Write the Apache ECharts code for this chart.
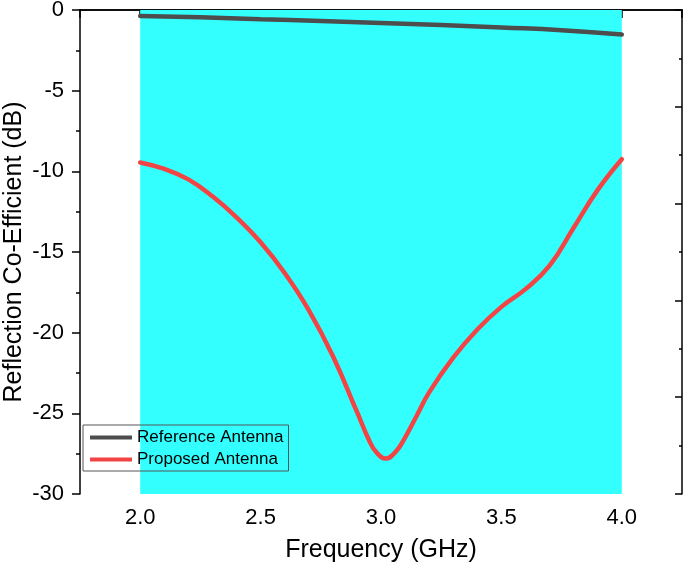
<!DOCTYPE html>
<html>
<head>
<meta charset="utf-8">
<script src="https://cdn.jsdelivr.net/npm/echarts@6/dist/echarts.min.js"></script>
<style>
  html, body { margin: 0; padding: 0; background: #fff; }
  #chart { width: 685px; height: 568px; }
</style>
</head>
<body>
<div id="chart"></div>
<script>
// frequency (GHz) / reflection co-efficient (dB)
const refFreq = [2.0, 2.25, 2.5, 2.75, 3.0, 3.25, 3.5, 3.75, 4.0];
const refDb = [-0.37, -0.45, -0.57, -0.68, -0.80, -0.93, -1.08, -1.25, -1.52];

const propFreq = [2.0, 2.1, 2.2, 2.3, 2.4, 2.5, 2.6, 2.7, 2.8, 2.9, 2.95, 2.98, 3.02, 3.06,
                  3.1, 3.15, 3.2, 3.3, 3.4, 3.5, 3.6, 3.7, 3.8, 3.9, 4.0];
const propDb = [-9.45, -9.85, -10.5, -11.55, -12.85, -14.4, -16.3, -18.6, -21.45, -24.9, -26.65, -27.4, -27.8, -27.4,
                -26.5, -25.1, -23.7, -21.55, -19.8, -18.4, -17.3, -15.85, -13.5, -11.15, -9.25];

// shaded band (GHz)
const bandRange = [2.0, 4.0];

const xMajor = [2.0, 2.5, 3.0, 3.5, 4.0];
const xMinor = [1.75, 2.25, 2.75, 3.25, 3.75, 4.25];

const FONT = 'Liberation Sans, Arial, sans-serif';
const BLACK = '#000';

const zip = (xs, ys) => xs.map((x, i) => [x, ys[i]]);

const chart = echarts.init(document.getElementById('chart'), null, { renderer: 'canvas' });

const xBase = { type: 'value', min: 1.75, max: 4.25, splitLine: { show: false } };

const option = {
    animation: false,
    backgroundColor: '#fff',
    grid: { left: 80, top: 10, right: 3, bottom: 74, outerBoundsMode: 'none', containLabel: false },
    legend: {
        data: ['Reference Antenna', 'Proposed Antenna'],
        orient: 'vertical',
        left: 83,
        top: 425,
        padding: [4, 5, 3, 7],
        itemGap: 5,
        itemWidth: 42,
        itemHeight: 4,
        icon: 'rect',
        borderColor: '#555',
        borderWidth: 1,
        textStyle: { fontFamily: FONT, fontSize: 17, color: BLACK },
    },
    xAxis: [
        {
            ...xBase,
            position: 'bottom',
            name: 'Frequency (GHz)',
            nameLocation: 'middle',
            nameGap: 44,
            nameMoveOverlap: false,
            nameTextStyle: { fontFamily: FONT, fontSize: 25, color: BLACK },
            axisLine: { lineStyle: { color: BLACK, width: 1.5 } },
            axisTick: { customValues: xMajor, length: 8, lineStyle: { color: BLACK, width: 1.5 } },
            axisLabel: {
                customValues: xMajor,
                margin: 13,
                fontFamily: FONT, fontSize: 22, color: BLACK,
                formatter: v => v.toFixed(1),
            },
        },
        {
            ...xBase,
            position: 'bottom',
            axisLine: { show: false },
            axisTick: { customValues: xMinor, length: 4, lineStyle: { color: BLACK, width: 1.5 } },
            axisLabel: { show: false },
        },
        {
            ...xBase,
            position: 'top',
            axisLine: { lineStyle: { color: BLACK, width: 1.5 } },
            axisTick: { inside: true, customValues: xMinor, length: 8, lineStyle: { color: BLACK, width: 1.5 } },
            axisLabel: { show: false },
        },
        {
            ...xBase,
            position: 'top',
            axisLine: { show: false },
            axisTick: { inside: true, customValues: xMajor, length: 4, lineStyle: { color: BLACK, width: 1.5 } },
            axisLabel: { show: false },
        },
    ],
    yAxis: [
        {
            type: 'value',
            position: 'left',
            min: -30,
            max: 0,
            interval: 5,
            name: 'Reflection Co-Efficient (dB)',
            nameLocation: 'middle',
            nameGap: 53,
            nameMoveOverlap: false,
            nameTextStyle: { fontFamily: FONT, fontSize: 25, color: BLACK },
            splitLine: { show: false },
            axisLine: { show: true, lineStyle: { color: BLACK, width: 1.5 } },
            axisTick: { show: true, length: 8, lineStyle: { color: BLACK, width: 1.5 } },
            minorTick: { show: true, splitNumber: 2, length: 4, lineStyle: { color: BLACK, width: 1.5 } },
            axisLabel: { margin: 16, fontFamily: FONT, fontSize: 22, color: BLACK },
        },
        {
            type: 'value',
            position: 'right',
            min: -30,
            max: 0,
            interval: 6,
            splitLine: { show: false },
            axisLine: { show: true, lineStyle: { color: BLACK, width: 1.5 } },
            axisTick: { show: true, inside: true, length: 7, lineStyle: { color: BLACK, width: 1.5 } },
            minorTick: { show: true, splitNumber: 2, length: 3, lineStyle: { color: BLACK, width: 1.5 } },
            axisLabel: { show: false },
        },
    ],
    series: [
        {
            name: 'band',
            type: 'line',
            z: 1,
            data: [[bandRange[0], 0], [bandRange[1], 0]],
            showSymbol: false,
            lineStyle: { width: 0 },
            areaStyle: { color: '#33ffff', opacity: 1, origin: 'start' },
            silent: true,
        },
        {
            name: 'Reference Antenna',
            type: 'line',
            z: 3,
            data: zip(refFreq, refDb),
            smooth: true,
            showSymbol: false,
            itemStyle: { color: '#4d4d4d' },
            lineStyle: { color: '#4d4d4d', width: 4.5, cap: 'round' },
        },
        {
            name: 'Proposed Antenna',
            type: 'line',
            z: 3,
            data: zip(propFreq, propDb),
            smooth: 0.45,
            showSymbol: false,
            itemStyle: { color: '#f24444' },
            lineStyle: { color: '#f24444', width: 4.5, cap: 'round' },
        },
    ],
};

chart.setOption(option);
</script>
</body>
</html>
